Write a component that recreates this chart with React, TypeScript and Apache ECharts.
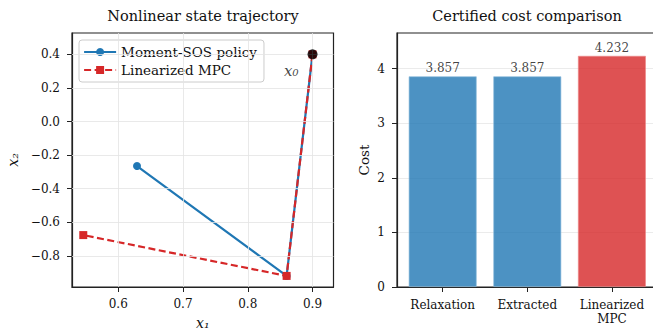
import React, { useEffect, useRef } from "react";
import * as echarts from "echarts";

// ---- data ----
const momentX = [0.9, 0.86, 0.629];
const momentY = [0.4, -0.919, -0.265];
const mpcX = [0.9, 0.86, 0.546];
const mpcY = [0.4, -0.919, -0.676];
const startPoint = [0.9, 0.4];
const xTicks = [0.6, 0.7, 0.8, 0.9];
const yTicks = [-0.8, -0.6, -0.4, -0.2, 0.0, 0.2, 0.4];

const costCategories = ["Relaxation", "Extracted", "Linearized\nMPC"];
const costValues = [3.857, 3.857, 4.232];
const costTicks = [0, 1, 2, 3, 4];

const FONT = "DejaVu Serif";
const BLUE = "#1f77b4";
const RED = "#d62728";
const SPINE = "#222";

const fmtNum = (v: number) => {
  const s = Math.abs(v).toFixed(1);
  return v < -1e-9 ? "\u2212" + s : s;
};

export default function App() {
  const ref = useRef<HTMLDivElement>(null);
  useEffect(() => {
    document.body.style.margin = "0";
    const chart = echarts.init(ref.current!, null, { renderer: "svg" });
    const momentData = momentX.map((x, i) => [x, momentY[i]]);
    const mpcData = mpcX.map((x, i) => [x, mpcY[i]]);
    const barIdx = costValues.map((v, i) => i);
    const axisLineStyle = { show: true, onZero: false, lineStyle: { color: SPINE, width: 1.2 } };
    const option: any = {
      animation: false,
      textStyle: { fontFamily: FONT },
      graphic: [
        {
          type: "text",
          x: 203,
          y: 16,
          style: {
            text: "Nonlinear state trajectory",
            textAlign: "center",
            textVerticalAlign: "middle",
            fontFamily: FONT,
            fontSize: 14.5,
            fill: "#111",
          },
        },
        {
          type: "text",
          x: 527,
          y: 16,
          style: {
            text: "Certified cost comparison",
            textAlign: "center",
            textVerticalAlign: "middle",
            fontFamily: FONT,
            fontSize: 14.5,
            fill: "#111",
          },
        },
      ],
      legend: {
        left: 79,
        top: 40,
        orient: "vertical",
        padding: [5, 7, 5, 4],
        itemGap: 4,
        itemWidth: 32,
        itemHeight: 10,
        backgroundColor: "rgba(255,255,255,0.85)",
        borderColor: "#cccccc",
        borderWidth: 1,
        borderRadius: 3,
        lineStyle: { width: 2.2 },
        textStyle: { fontFamily: FONT, fontSize: 13.5, color: "#111" },
        data: ["Moment-SOS policy", "Linearized MPC"],
      },
      grid: [
        {
          left: 72,
          top: 33,
          width: 261.5,
          height: 254,
          show: true,
          borderColor: SPINE,
          borderWidth: 1.2,
          containLabel: false,
          outerBoundsMode: "none",
        },
        {
          left: 397,
          top: 33,
          width: 260.6,
          height: 254,
          show: true,
          borderColor: SPINE,
          borderWidth: 1.2,
          containLabel: false,
          outerBoundsMode: "none",
        },
      ],
      xAxis: [
        {
          type: "value",
          gridIndex: 0,
          min: 0.5286,
          max: 0.9324,
          name: "x\u2081",
          nameLocation: "middle",
          nameGap: 29,
          nameTextStyle: { fontFamily: FONT, fontSize: 14, fontStyle: "italic", color: "#111" },
          axisLine: axisLineStyle,
          axisTick: { show: true, customValues: xTicks, length: 5, lineStyle: { color: SPINE, width: 1 } },
          axisLabel: {
            show: true,
            customValues: xTicks,
            margin: 11,
            fontFamily: FONT,
            fontSize: 12,
            color: "#111",
            formatter: (v: number) => fmtNum(v),
          },
          splitLine: { show: false },
        },
        {
          type: "value",
          gridIndex: 1,
          min: -0.54,
          max: 2.54,
          axisLine: axisLineStyle,
          axisTick: { show: true, customValues: barIdx, length: 5, lineStyle: { color: SPINE, width: 1 } },
          axisLabel: {
            show: true,
            customValues: barIdx,
            margin: 11,
            fontFamily: FONT,
            fontSize: 12,
            lineHeight: 14,
            color: "#111",
            formatter: (v: number) => costCategories[Math.round(v)] ?? "",
          },
          splitLine: { show: false },
        },
      ],
      yAxis: [
        {
          type: "value",
          gridIndex: 0,
          min: -0.985,
          max: 0.527,
          name: "x\u2082",
          nameLocation: "middle",
          nameGap: 52,
          nameRotate: 90,
          nameTextStyle: { fontFamily: FONT, fontSize: 14, fontStyle: "italic", color: "#111" },
          axisLine: axisLineStyle,
          axisTick: { show: true, customValues: yTicks, length: 5, lineStyle: { color: SPINE, width: 1 } },
          axisLabel: {
            show: true,
            customValues: yTicks,
            margin: 12,
            fontFamily: FONT,
            fontSize: 12,
            color: "#111",
            formatter: (v: number) => fmtNum(v),
          },
          splitLine: { show: false },
        },
        {
          type: "value",
          gridIndex: 1,
          min: 0,
          max: 4.65,
          interval: 1,
          name: "Cost",
          nameLocation: "middle",
          nameGap: 26,
          nameRotate: 90,
          nameTextStyle: { fontFamily: FONT, fontSize: 13.5, color: "#111" },
          axisLine: axisLineStyle,
          axisTick: { show: true, customValues: costTicks, length: 5, lineStyle: { color: SPINE, width: 1 } },
          axisLabel: {
            show: true,
            customValues: costTicks,
            margin: 12,
            fontFamily: FONT,
            fontSize: 12,
            color: "#111",
          },
          splitLine: { show: true, lineStyle: { color: "#e6e6e6", width: 0.8 } },
        },
      ],
      series: [
        {
          type: "line",
          name: "grid",
          xAxisIndex: 0,
          yAxisIndex: 0,
          data: [[0.6, 0.0]],
          showSymbol: false,
          symbol: "none",
          lineStyle: { opacity: 0 },
          z: 0,
          silent: true,
          markLine: {
            silent: true,
            symbol: ["none", "none"],
            label: { show: false },
            lineStyle: { color: "#e3e3e3", width: 0.8, type: "solid" },
            data: [
              ...xTicks.map((v) => ({ xAxis: v })),
              ...yTicks.map((v) => ({ yAxis: v })),
            ],
          },
        },
        {
          type: "line",
          name: "Moment-SOS policy",
          xAxisIndex: 0,
          yAxisIndex: 0,
          data: momentData,
          symbol: "circle",
          symbolSize: 8,
          color: BLUE,
          itemStyle: { color: BLUE },
          lineStyle: { color: BLUE, width: 2.2 },
          z: 3,
        },
        {
          type: "line",
          name: "Linearized MPC",
          xAxisIndex: 0,
          yAxisIndex: 0,
          data: mpcData,
          symbol: "rect",
          symbolSize: 8,
          color: RED,
          itemStyle: { color: RED },
          lineStyle: { color: RED, width: 2.2, type: [7, 3.5] },
          z: 4,
        },
        {
          type: "scatter",
          name: "start",
          xAxisIndex: 0,
          yAxisIndex: 0,
          data: [startPoint],
          symbol: "circle",
          symbolSize: 10,
          itemStyle: { color: "#000" },
          z: 6,
          label: {
            show: true,
            position: "left",
            distance: 0,
            offset: [-9, 17],
            formatter: "x\u2080",
            fontFamily: FONT,
            fontStyle: "italic",
            fontSize: 15,
            color: "#111",
          },
        },
        {
          type: "bar",
          name: "cost",
          xAxisIndex: 1,
          yAxisIndex: 1,
          barWidth: 68,
          data: costValues.map((v, i) => ({
            value: [i, v],
            itemStyle: {
              color: i === 2 ? RED : BLUE,
              opacity: 0.8,
              borderColor: i === 2 ? "#e88" : "#8bbbdd",
              borderWidth: 0.8,
            },
          })),
          label: {
            show: true,
            position: "top",
            distance: 2,
            fontFamily: FONT,
            fontSize: 12,
            color: "#111",
            formatter: (p: any) => p.value[1].toFixed(3),
          },
          z: 2,
        },
      ],
    };
    chart.setOption(option);
    return () => chart.dispose();
  }, []);
  return <div ref={ref} style={{ width: 653, height: 333 }} />;
}
